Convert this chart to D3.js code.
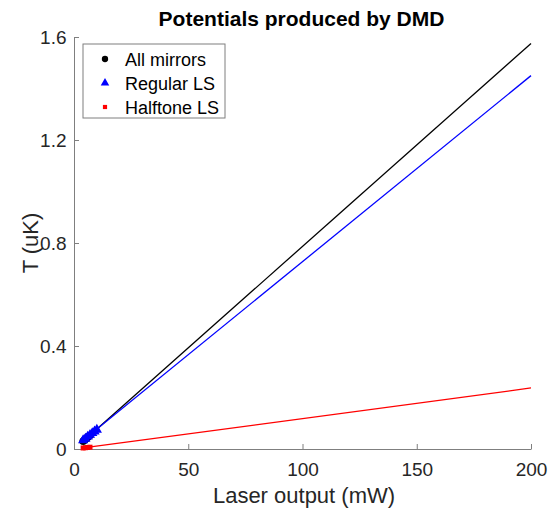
<!DOCTYPE html>
<html>
<head>
<meta charset="utf-8">
<script src="https://cdn.jsdelivr.net/npm/d3@7"></script>
<style>
  body { margin: 0; background: #fff; }
  svg { display: block; font-family: "Liberation Sans", Arial, sans-serif; }
</style>
</head>
<body>
<svg id="chart" width="549" height="512"></svg>
<script>
// ---- data ----
const xTicks = [0, 50, 100, 150, 200];
const yTicks = [0, 0.4, 0.8, 1.2, 1.6];

// measured points, clustered near the origin
const allMirrorsPts = [[4, 0.030], [4.5, 0.034], [5, 0.038], [5.5, 0.042], [6, 0.046], [7, 0.052]];
const regularPts = [[4, 0.034], [5, 0.040], [6, 0.048], [7, 0.055], [8, 0.062], [9, 0.068], [10, 0.075]];
const halftonePts = [[4, 0.004], [5, 0.005], [6, 0.006], [7, 0.007]];

// linear fits, drawn as lines
const allMirrorsFit = [[4, 0.030], [200, 1.575]];
const regularFit = [[4, 0.034], [200, 1.450]];
const halftoneFit = [[4, 0.004], [200, 0.237]];

const series = [
  { name: "All mirrors", color: "#000000", shape: d3.symbolCircle, size: 45, pts: allMirrorsPts, fit: allMirrorsFit },
  { name: "Regular LS", color: "#0000ff", shape: d3.symbolTriangle, size: 45, pts: regularPts, fit: regularFit },
  { name: "Halftone LS", color: "#ff0000", shape: d3.symbolSquare, size: 25, pts: halftonePts, fit: halftoneFit }
];

// ---- layout ----
const svg = d3.select("#chart");
const plotLeft = 74, plotRight = 531, plotTop = 37, plotBottom = 449;

const x = d3.scaleLinear().domain([0, 200]).range([plotLeft, plotRight]);
const y = d3.scaleLinear().domain([0, 1.6]).range([plotBottom, plotTop]);

const axisColor = "#7f7f7f";
const textColor = "#262626";

// x axis (ticks point inward)
const xAxis = svg.append("g")
    .attr("transform", `translate(0,${plotBottom})`)
    .call(d3.axisBottom(x).tickValues(xTicks).tickSizeInner(-5).tickSizeOuter(0).tickPadding(14));
// y axis
const yAxis = svg.append("g")
    .attr("transform", `translate(${plotLeft},0)`)
    .call(d3.axisLeft(y).tickValues(yTicks).tickFormat(d => d === 0 ? "0" : d3.format(".1f")(d))
        .tickSizeInner(-5).tickSizeOuter(0).tickPadding(7.5));

[xAxis, yAxis].forEach(g => {
    g.select(".domain").attr("stroke", axisColor);
    g.selectAll(".tick line").attr("stroke", axisColor);
    g.selectAll(".tick text")
        .attr("fill", textColor)
        .style("font-size", "19px")
        .style("font-family", "Liberation Sans, Arial, sans-serif");
});

// fit lines
const line = d3.line().x(d => x(d[0])).y(d => y(d[1]));
series.forEach(s => {
    svg.append("path")
        .datum(s.fit)
        .attr("d", line)
        .attr("fill", "none")
        .attr("stroke", s.color)
        .attr("stroke-width", 1.3);
});

// markers
series.forEach(s => {
    svg.append("g").selectAll("path")
        .data(s.pts)
        .join("path")
        .attr("transform", d => `translate(${x(d[0])},${y(d[1])})`)
        .attr("d", d3.symbol().type(s.shape).size(s.size))
        .attr("fill", s.color);
});

// title
svg.append("text")
    .attr("x", 301.5).attr("y", 26)
    .attr("text-anchor", "middle")
    .attr("font-weight", "bold")
    .attr("font-size", 21)
    .attr("fill", "#000")
    .text("Potentials produced by DMD");

// axis labels
svg.append("text")
    .attr("x", 304).attr("y", 503)
    .attr("text-anchor", "middle")
    .attr("font-size", 22)
    .attr("fill", textColor)
    .text("Laser output (mW)");

svg.append("text")
    .attr("transform", `translate(38,${(plotTop + plotBottom) / 2}) rotate(-90)`)
    .attr("text-anchor", "middle")
    .attr("font-size", 22)
    .attr("fill", textColor)
    .text("T (uK)");

// legend
const legend = svg.append("g").attr("transform", "translate(83,44)");
legend.append("rect")
    .attr("width", 142).attr("height", 74)
    .attr("fill", "#fff")
    .attr("stroke", axisColor)
    .attr("stroke-width", 1);

series.forEach((s, i) => {
    const yy = 15 + i * 24;
    legend.append("path")
        .attr("transform", `translate(22,${yy})`)
        .attr("d", d3.symbol().type(s.shape).size(s.size * 0.7))
        .attr("fill", s.color);
    legend.append("text")
        .attr("x", 42).attr("y", yy + 6.5)
        .attr("font-size", 18)
        .attr("fill", "#000")
        .text(s.name);
});
</script>
</body>
</html>
